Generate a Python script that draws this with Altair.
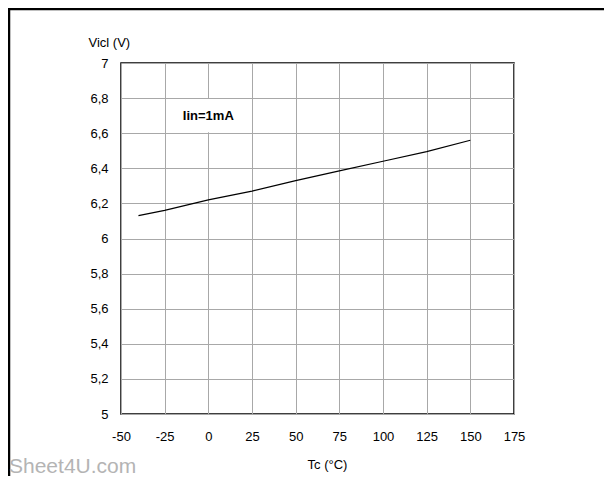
import altair as alt
import pandas as pd

# Data
temps = [-40, -25, 0, 25, 50, 75, 100, 125, 150]
vicl = [6.13, 6.16, 6.22, 6.27, 6.33, 6.385, 6.44, 6.495, 6.56]

x_ticks = [-50, -25, 0, 25, 50, 75, 100, 125, 150, 175]
y_ticks = [5, 5.2, 5.4, 5.6, 5.8, 6, 6.2, 6.4, 6.6, 6.8, 7]

label_text = ["Iin=1mA"]
label_x = [0]
label_y = [6.7]
box_x = [-24]
box_x2 = [24]
box_y = [6.605]
box_y2 = [6.795]

watermark = ["Sheet4U.com"]

FONT = "Liberation Sans"

df = pd.DataFrame({"Tc": temps, "Vicl": vicl})
lab = pd.DataFrame({"t": label_text, "x": label_x, "y": label_y,
                    "bx": box_x, "bx2": box_x2, "by": box_y, "by2": box_y2})

xscale = alt.Scale(domain=[-50, 175], nice=False, zero=False)
yscale = alt.Scale(domain=[5, 7], nice=False, zero=False)

xaxis = alt.Axis(values=x_ticks, title="Tc (°C)", grid=True, gridColor="#a8a8a8",
                 gridWidth=1, domain=False, ticks=False, labelPadding=16,
                 labelOverlap=False,
                 labelExpr="toString(datum.value)",
                 labelFont=FONT, labelFontSize=13, labelColor="black",
                 titleFont=FONT, titleFontSize=13, titleFontWeight="normal",
                 titleColor="black", titleX=206, titleY=54,
                 titleBaseline="alphabetic", labelFlush=False)
yaxis = alt.Axis(values=y_ticks, title="Vicl (V)", grid=True, gridColor="#a8a8a8",
                 gridWidth=1, domain=False, ticks=False, labelPadding=13,
                 labelOverlap=False,
                 labelFont=FONT, labelFontSize=13, labelColor="black",
                 labelExpr="replace(toString(datum.value), '.', ',')",
                 titleFont=FONT, titleFontSize=13, titleFontWeight="normal",
                 titleColor="black", titleAngle=0, titleAlign="left",
                 titleBaseline="alphabetic", titleX=-33, titleY=-17,
                 labelFlush=False)

line = alt.Chart(df).mark_line(color="black", strokeWidth=1.2).encode(
    x=alt.X("Tc:Q", scale=xscale, axis=xaxis),
    y=alt.Y("Vicl:Q", scale=yscale, axis=yaxis),
)

box = alt.Chart(lab).mark_rect(color="white").encode(
    x=alt.X("bx:Q", scale=xscale, axis=xaxis), x2="bx2:Q",
    y=alt.Y("by:Q", scale=yscale, axis=yaxis), y2="by2:Q",
)

text = alt.Chart(lab).mark_text(font=FONT, fontSize=13, fontWeight="bold",
                                color="black").encode(
    x=alt.X("x:Q", scale=xscale, axis=xaxis),
    y=alt.Y("y:Q", scale=yscale, axis=yaxis), text="t:N"
)

one = pd.DataFrame({"a": [0], "w": watermark})

frame_top = alt.Chart(one).mark_rule(color="black", strokeWidth=2.5).encode(
    x=alt.value(-113), x2=alt.value(500), y=alt.value(-54)
)
frame_left = alt.Chart(one).mark_rule(color="black", strokeWidth=2.5).encode(
    x=alt.value(-112), y=alt.value(-55), y2=alt.value(420)
)
wm = alt.Chart(one).mark_text(font=FONT, fontSize=21, color="#b4b4b4",
                              align="left", baseline="alphabetic").encode(
    x=alt.value(-112), y=alt.value(410), text="w:N"
)

chart = alt.layer(line, box, text, frame_top, frame_left, wm).properties(
    width=393, height=351,
    autosize=alt.AutoSizeParams(type="none"),
    padding={"left": 113, "top": 55, "right": 90, "bottom": 62},
    background="white",
).configure_view(stroke="black", strokeWidth=1.5)

chart.save("out.html", embed_options={"renderer": "svg", "actions": False})
